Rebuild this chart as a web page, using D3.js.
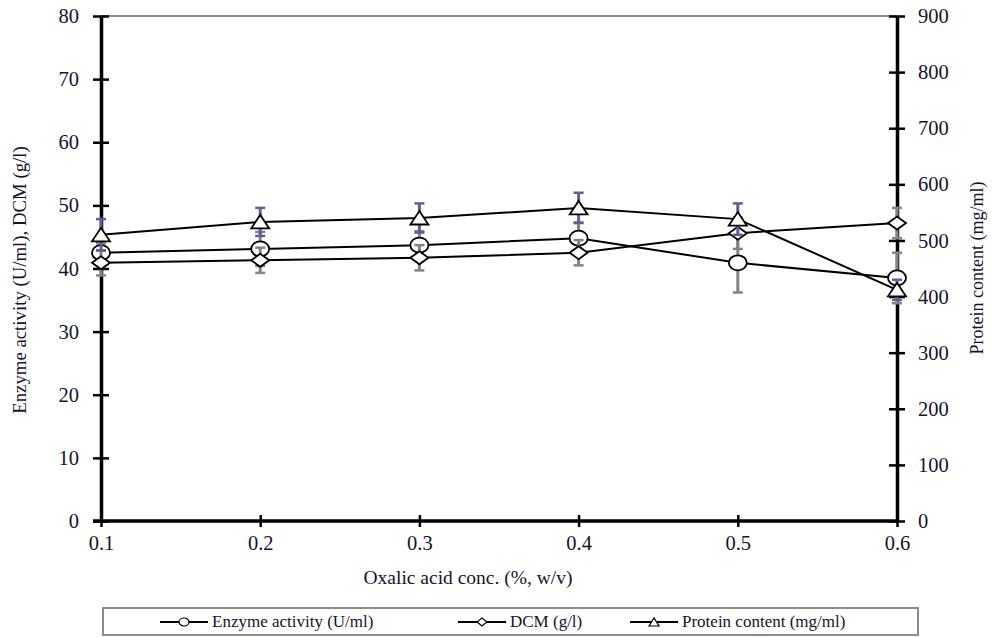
<!DOCTYPE html>
<html>
<head>
<meta charset="utf-8">
<script src="https://d3js.org/d3.v7.min.js"></script>
<style>
  body { margin: 0; background: #fff; }
</style>
</head>
<body>
<svg id="chart" width="992" height="637"></svg>
<script>
// data
const conc = [0.1, 0.2, 0.3, 0.4, 0.5, 0.6];
const enzyme = [42.5, 43.1, 43.7, 44.8, 40.9, 38.5];
const enzymeErr = [1.5, 2.7, 2.2, 2.5, 4.7, 4.0];
const dcm = [40.9, 41.3, 41.7, 42.5, 45.6, 47.2];
const dcmErr = [2.0, 2.0, 2.0, 2.0, 2.5, 2.4];
const protein = [510, 533, 540, 558, 538, 412];
const proteinErr = [28, 25, 26, 27, 28, 18];

const xTicks = [0.1, 0.2, 0.3, 0.4, 0.5, 0.6];
const yLeftTicks = [0, 10, 20, 30, 40, 50, 60, 70, 80];
const yRightTicks = [0, 100, 200, 300, 400, 500, 600, 700, 800, 900];

const serif = "'Liberation Serif', 'Times New Roman', Times, serif";

let svg = d3.select("svg#chart");
let margin = {"top": 16, "left": 101, "right": 95, "bottom": 116};
let width = +svg.attr("width"), height = +svg.attr("height");
let x0 = margin.left, x1 = width - margin.right, y0 = height - margin.bottom, y1 = margin.top;

let xScale = d3.scaleLinear().domain([0.1, 0.6]).range([x0, x1]);
let yLeft = d3.scaleLinear().domain([0, 80]).range([y0, y1]);
let yRight = d3.scaleLinear().domain([0, 900]).range([y0, y1]);

// top border line
svg.append("line")
  .attr("x1", x0).attr("x2", x1).attr("y1", y1).attr("y2", y1)
  .style("stroke", "#8c8c8c").style("stroke-width", 2);

// axes with ticks crossing the line
function styleAxis(g, horiz) {
  g.select(".domain").style("stroke", "#000").style("stroke-width", 3.5);
  g.selectAll(".tick line").style("stroke", "#000").style("stroke-width", 2.5);
  if (horiz) g.selectAll(".tick line").attr("y1", -6).attr("y2", 6);
  else g.selectAll(".tick line").attr("x1", -8).attr("x2", 8);
  g.selectAll(".tick text").attr("fill", "#14142a")
    .style("font-family", serif).style("font-size", "20.5px");
}

let gx = svg.append("g").attr("transform", "translate(0," + y0 + ")")
  .call(d3.axisBottom(xScale).tickValues(xTicks).tickFormat(d3.format(".1f")).tickSizeOuter(0).tickPadding(8));
styleAxis(gx, true);
gx.select(".domain").attr("d", "M" + (x0 - 8) + ",0H" + x1);

let gl = svg.append("g").attr("transform", "translate(" + x0 + ",0)")
  .call(d3.axisLeft(yLeft).tickValues(yLeftTicks).tickSizeOuter(0).tickPadding(16));
styleAxis(gl, false);

let gr = svg.append("g").attr("transform", "translate(" + x1 + ",0)")
  .call(d3.axisRight(yRight).tickValues(yRightTicks).tickSizeOuter(0).tickPadding(15));
styleAxis(gr, false);

// axis titles
svg.append("text").attr("x", 468).attr("y", 584)
  .attr("text-anchor", "middle").attr("font-family", serif).attr("font-size", 19.5)
  .attr("fill", "#14142a").text("Oxalic acid conc. (%, w/v)");
svg.append("text").attr("transform", "translate(26,280) rotate(-90)")
  .attr("text-anchor", "middle").attr("font-family", serif).attr("font-size", 18.8)
  .attr("fill", "#14142a").text("Enzyme activity (U/ml), DCM (g/l)");
svg.append("text").attr("transform", "translate(983,268) rotate(-90)")
  .attr("text-anchor", "middle").attr("font-family", serif).attr("font-size", 18)
  .attr("fill", "#14142a").text("Protein content (mg/ml)");

// marker shapes
const circlePath = "M-9,0A9,7.5 0 1,0 9,0A9,7.5 0 1,0 -9,0Z";
const diamondPath = "M-9,0L0,-6.5L9,0L0,6.5Z";
const trianglePath = "M-9,6.5L0,-7L9,6.5Z";

function drawSeries(vals, errs, yScale, errColor, shape) {
  let g = svg.append("g");
  // error bars
  vals.forEach(function(v, i) {
    let cx = xScale(conc[i]);
    let top = yScale(v + errs[i]), bot = yScale(v - errs[i]);
    g.append("line").attr("x1", cx).attr("x2", cx).attr("y1", top).attr("y2", bot)
      .style("stroke", errColor).style("stroke-width", 3);
    [top, bot].forEach(function(yy) {
      g.append("line").attr("x1", cx - 5).attr("x2", cx + 5).attr("y1", yy).attr("y2", yy)
        .style("stroke", errColor).style("stroke-width", 2.5);
    });
  });
  // line
  let line = d3.line().x((d, i) => xScale(conc[i])).y(d => yScale(d));
  g.append("path").datum(vals).attr("d", line)
    .style("fill", "none").style("stroke", "#000").style("stroke-width", 2);
  // markers
  vals.forEach(function(v, i) {
    g.append("path").attr("d", shape)
      .attr("transform", "translate(" + xScale(conc[i]) + "," + yScale(v) + ")")
      .style("fill", "#fff").style("stroke", "#000").style("stroke-width", 1.8);
  });
}

drawSeries(enzyme, enzymeErr, yLeft, "#848484", circlePath);
drawSeries(dcm, dcmErr, yLeft, "#848484", diamondPath);
drawSeries(protein, proteinErr, yRight, "#5f5f9c", trianglePath);

// legend
let legend = svg.append("g");
legend.append("rect").attr("x", 103).attr("y", 608).attr("width", 815).attr("height", 27)
  .style("fill", "#fff").style("stroke", "#8c8c8c").style("stroke-width", 2);
const legendNames = ["Enzyme activity (U/ml)", "DCM (g/l)", "Protein content (mg/ml)"];
const legendShapes = ["M-5,0A5,4 0 1,0 5,0A5,4 0 1,0 -5,0Z", "M-5,0L0,-4L5,0L0,4Z", "M-5,4L0,-4L5,4Z"];
const legendX = [160, 458, 630];
legendNames.forEach(function(name, i) {
  let lx = legendX[i], ly = 622;
  legend.append("line").attr("x1", lx).attr("x2", lx + 48).attr("y1", ly).attr("y2", ly)
    .style("stroke", "#000").style("stroke-width", 2);
  legend.append("path").attr("d", legendShapes[i])
    .attr("transform", "translate(" + (lx + 24) + "," + ly + ")")
    .style("fill", "#fff").style("stroke", "#000").style("stroke-width", 1.2);
  legend.append("text").attr("x", lx + 52).attr("y", ly + 5)
    .attr("font-family", serif).attr("font-size", 17).attr("fill", "#14142a").text(name);
});
</script>
</body>
</html>
